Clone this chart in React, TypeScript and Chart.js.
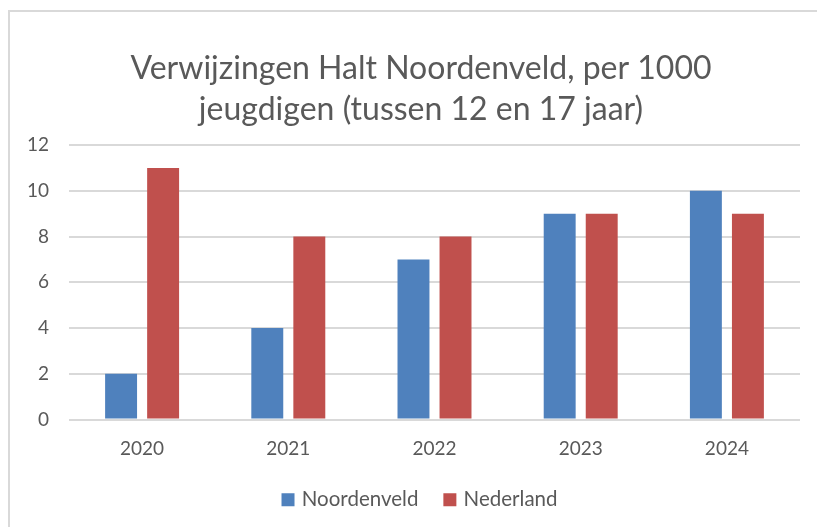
import React, { useEffect, useRef } from "react";
import { Chart, registerables } from "chart.js";

Chart.register(...registerables);

const categories = ["2020", "2021", "2022", "2023", "2024"];
const noordenveld = [2, 4, 7, 9, 10];
const nederland = [11, 8, 8, 9, 9];
const titleLines = ["Verwijzingen Halt Noordenveld, per 1000", "jeugdigen (tussen 12 en 17 jaar)"];

const FONT = "Lato, 'Open Sans', sans-serif";
const TEXT = "#595959";

export default function App() {
  const ref = useRef<HTMLCanvasElement>(null);
  useEffect(() => {
    if (!ref.current) return;
    const chart = new Chart(ref.current, {
      type: "bar",
      data: {
        labels: categories,
        datasets: [
          { label: "Noordenveld", data: noordenveld, backgroundColor: "#4F81BD", categoryPercentage: 0.575, barPercentage: 0.76 },
          { label: "Nederland", data: nederland, backgroundColor: "#C0504D", categoryPercentage: 0.575, barPercentage: 0.76 },
        ],
      },
      options: {
        animation: false,
        responsive: false,
        layout: { padding: { left: 28, right: 3, top: 0, bottom: 7 } },
        plugins: {
          title: {
            display: true,
            text: titleLines,
            color: TEXT,
            font: { family: FONT, size: 32, weight: "normal", lineHeight: "41px" as any },
            padding: { top: 48, bottom: 15 },
          },
          legend: {
            position: "bottom",
            labels: {
              color: TEXT,
              font: { family: FONT, size: 20.5 },
              usePointStyle: true,
              pointStyle: "rect",
              boxWidth: 7,
              boxHeight: 13,
              padding: 28,
            },
          },
          tooltip: { enabled: false },
        },
        scales: {
          x: {
            afterFit: (s: any) => { s.height = 42; },
            grid: { display: false, drawTicks: false },
            border: { display: false },
            ticks: { color: TEXT, font: { family: FONT, size: 19 }, padding: 18 },
          },
          y: {
            min: 0,
            max: 12,
            afterFit: (s: any) => { s.width = 41; },
            grid: { color: "#D9D9D9", lineWidth: 2, drawTicks: false },
            border: { display: false },
            ticks: { stepSize: 2, color: TEXT, font: { family: FONT, size: 19 }, padding: 20 },
          },
          yRight: {
            position: "right",
            min: 0,
            max: 12,
            afterFit: (s: any) => { s.width = 14; },
            grid: { display: false, drawTicks: false },
            border: { display: false },
            ticks: { display: false },
          },
        },
      },
    });
    return () => chart.destroy();
  }, []);
  return (
    <div style={{ position: "fixed", left: 0, top: 0, width: 817, height: 527, background: "#fff" }}>
      <div style={{ position: "absolute", left: 8, top: 10, right: 0, bottom: 0, borderLeft: "2px solid #D9D9D9", borderTop: "2px solid #D9D9D9" }} />
      <canvas ref={ref} width={817} height={527} style={{ position: "absolute", left: 0, top: 0 }} />
    </div>
  );
}
